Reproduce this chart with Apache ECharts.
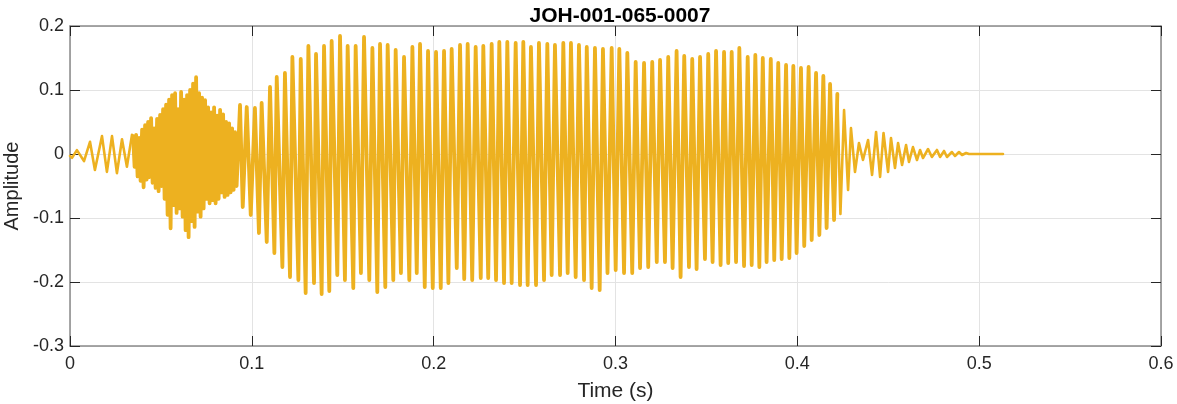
<!DOCTYPE html>
<html>
<head>
<meta charset="utf-8">
<script src="https://cdn.jsdelivr.net/npm/echarts@6/dist/echarts.min.js"></script>
<style>
html,body{margin:0;padding:0;background:#fff;}
#chart{width:1177px;height:404px;}
</style>
</head>
<body>
<div id="chart"></div>
<script>
// ---- Data ----
const chartTitle = 'JOH-001-065-0007';
const xTicks = [0, 0.1, 0.2, 0.3, 0.4, 0.5, 0.6];
const yTicks = [-0.3, -0.2, -0.1, 0, 0.1, 0.2];

// onset (slow oscillations)
const onsetTime = [0, 0.0011, 0.0038, 0.0077, 0.0110, 0.0137, 0.0176, 0.0203, 0.0231, 0.0258, 0.0286, 0.0313, 0.0341];
const onsetAmp  = [-0.003, -0.006, 0.006, -0.011, 0.019, -0.025, 0.028, -0.028, 0.028, -0.030, 0.023, -0.020, 0.030];

// noisy burst: uniformly sampled extrema
const noiseStart = 0.0347;
const noiseStep = 0.000825;
const noiseAmp = [
  0.028, -0.02, 0.03, -0.035, 0.025, -0.042, 0.038, -0.052, 0.045, -0.04,
  0.05, -0.036, 0.056, -0.045, 0.04, -0.053, 0.055, -0.058, 0.061, -0.05,
  0.07, -0.07, 0.077, -0.095, 0.085, -0.116, 0.092, -0.08, 0.095, -0.092,
  0.07, -0.085, 0.097, -0.098, 0.085, -0.119, 0.092, -0.13, 0.1, -0.105,
  0.11, -0.114, 0.12, -0.09, 0.095, -0.098, 0.088, -0.085, 0.084, -0.07,
  0.073, -0.077, 0.065, -0.072, 0.073, -0.077, 0.06, -0.07, 0.069, -0.06,
  0.062, -0.067, 0.05, -0.064, 0.048, -0.06, 0.04, -0.056, 0.034, -0.05
];

// voiced part: positive peaks
const peakTime = [
  0.0935, 0.0972, 0.1017, 0.1054, 0.1100, 0.1137, 0.1182, 0.1223, 0.1269, 0.1311,
  0.1353, 0.1397, 0.1439, 0.1485, 0.1527, 0.1571, 0.1617, 0.1663, 0.1705, 0.1747,
  0.1791, 0.1837, 0.1883, 0.1925, 0.1969, 0.2013, 0.2057, 0.2099, 0.2145, 0.2187,
  0.2231, 0.2273, 0.2319, 0.2361, 0.2405, 0.2451, 0.2493, 0.2535, 0.2579, 0.2625,
  0.2667, 0.2713, 0.2755, 0.2799, 0.2842, 0.2887, 0.2931, 0.2979, 0.3021, 0.3065,
  0.3111, 0.3157, 0.3202, 0.3245, 0.3290, 0.3336, 0.3378, 0.3422, 0.3465, 0.3510,
  0.3553, 0.3597, 0.3639, 0.3681, 0.3727, 0.3769, 0.3810, 0.3854, 0.3895, 0.3938,
  0.3978, 0.4020, 0.4062, 0.4103, 0.4143, 0.4180, 0.4220
];
const peakAmp = [
  0.0766, 0.0734, 0.0719, 0.0797, 0.1047, 0.1203, 0.1266, 0.1516, 0.1484, 0.1688,
  0.1563, 0.1688, 0.1766, 0.1844, 0.1688, 0.1688, 0.1828, 0.1656, 0.1719, 0.1703,
  0.1625, 0.1516, 0.1672, 0.1719, 0.1609, 0.1594, 0.1609, 0.1641, 0.1703, 0.1719,
  0.1672, 0.1688, 0.1719, 0.1750, 0.1750, 0.1734, 0.1750, 0.1672, 0.1734, 0.1719,
  0.1703, 0.1734, 0.1734, 0.1703, 0.1672, 0.1656, 0.1641, 0.1656, 0.1641, 0.1578,
  0.1438, 0.1422, 0.1438, 0.1469, 0.1516, 0.1609, 0.1531, 0.1484, 0.1516, 0.1563,
  0.1609, 0.1594, 0.1594, 0.1656, 0.1516, 0.1547, 0.1500, 0.1484, 0.1422, 0.1391,
  0.1375, 0.1344, 0.1359, 0.1266, 0.1219, 0.1094, 0.0938
];
// voiced part: negative troughs
const troughTime = [
  0.0950, 0.0994, 0.1039, 0.1082, 0.1124, 0.1168, 0.1210, 0.1256, 0.1296, 0.1342,
  0.1384, 0.1426, 0.1470, 0.1512, 0.1558, 0.1600, 0.1646, 0.1690, 0.1734, 0.1778,
  0.1820, 0.1866, 0.1907, 0.1951, 0.1995, 0.2039, 0.2081, 0.2127, 0.2168, 0.2212,
  0.2259, 0.2300, 0.2343, 0.2387, 0.2429, 0.2475, 0.2517, 0.2563, 0.2607, 0.2649,
  0.2695, 0.2737, 0.2781, 0.2827, 0.2869, 0.2913, 0.2956, 0.3001, 0.3047, 0.3092,
  0.3135, 0.3180, 0.3227, 0.3272, 0.3314, 0.3358, 0.3404, 0.3446, 0.3492, 0.3534,
  0.3578, 0.3620, 0.3663, 0.3707, 0.3749, 0.3791, 0.3831, 0.3873, 0.3914, 0.3956,
  0.3996, 0.4038, 0.4079, 0.4121, 0.4161, 0.4202
];
const troughAmp = [
  -0.0828, -0.0953, -0.1234, -0.1375, -0.1547, -0.1766, -0.1922, -0.1969, -0.2172, -0.2016,
  -0.2188, -0.2141, -0.1891, -0.1969, -0.2094, -0.1859, -0.1969, -0.2156, -0.2078, -0.1969,
  -0.1859, -0.1969, -0.1859, -0.2078, -0.2094, -0.2094, -0.2016, -0.1781, -0.1953, -0.1969,
  -0.1938, -0.1938, -0.1969, -0.2016, -0.2016, -0.2047, -0.2047, -0.2047, -0.1969, -0.1891,
  -0.1891, -0.1859, -0.1922, -0.1969, -0.2094, -0.2125, -0.1859, -0.1813, -0.1859, -0.1859,
  -0.1781, -0.1766, -0.1688, -0.1688, -0.1781, -0.1922, -0.1766, -0.1797, -0.1641, -0.1688,
  -0.1734, -0.1703, -0.1688, -0.1750, -0.1734, -0.1766, -0.1688, -0.1656, -0.1641, -0.1625,
  -0.1547, -0.1438, -0.1344, -0.1266, -0.1156, -0.1031
];

// decaying tail
const tailTime = [
  0.4237, 0.4257, 0.4279, 0.4295, 0.4317, 0.4339, 0.4361, 0.4389, 0.4411, 0.4433,
  0.4455, 0.4474, 0.4499, 0.4515, 0.4537, 0.4554, 0.4576, 0.4598, 0.4614, 0.4636,
  0.4658, 0.4675, 0.4691, 0.4719, 0.4740, 0.4768, 0.4785, 0.4807, 0.4823, 0.4850,
  0.4867, 0.4889, 0.4906, 0.4928, 0.4944, 0.5131
];
const tailAmp = [
  -0.0938, 0.0688, -0.0563, 0.0406, -0.0281, 0.0172, -0.0094, 0.0219, -0.0328, 0.0344,
  -0.0359, 0.0328, -0.0281, 0.0250, -0.0219, 0.0172, -0.0172, 0.0141, -0.0125, 0.0109,
  -0.0094, 0.0063, -0.0063, 0.0078, -0.0047, 0.0063, -0.0047, 0.0047, -0.0047, 0.0031,
  -0.0031, 0.0031, -0.0016, 0.0016, 0, 0
];

// ---- Build series data ----
const onsetPts = onsetTime.map((t, i) => [t, onsetAmp[i]]);
const mainPts = [];
noiseAmp.forEach((a, i) => mainPts.push([noiseStart + i * noiseStep, a]));
peakTime.forEach((t, i) => mainPts.push([t, peakAmp[i]]));
troughTime.forEach((t, i) => mainPts.push([t, troughAmp[i]]));
mainPts.sort((a, b) => a[0] - b[0]);
const tailPts = tailTime.map((t, i) => [t, tailAmp[i]]);
// join segments so the trace is continuous
onsetPts.push(mainPts[0]);
tailPts.unshift(mainPts[mainPts.length - 1]);

const FONT = 'Liberation Sans, Arial, Helvetica, sans-serif';
const WAVE = '#EDB120';
const chart = echarts.init(document.getElementById('chart'), null, {renderer: 'canvas'});
const gridLine = {show: true, lineStyle: {color: '#e3e3e3', width: 1}};
const boxLine = {show: true, onZero: false, lineStyle: {color: '#8a8a8a', width: 1.5}};
const tickIn = {show: true, inside: true, length: 10, lineStyle: {color: '#262626', width: 1}};
const lineSeries = (data, w) => ({
  type: 'line', data: data, showSymbol: false, sampling: 'none',
  lineStyle: {color: WAVE, width: w, join: 'round', cap: 'round'},
  emphasis: {disabled: true}, z: 1
});

chart.setOption({
  animation: false,
  backgroundColor: '#fff',
  title: {
    text: chartTitle,
    left: 615, top: 1, textAlign: 'center',
    textStyle: {fontFamily: FONT, fontSize: 21, fontWeight: 'bold', color: '#000'}
  },
  grid: {left: 70, right: 16, top: 26, bottom: 58, containLabel: false, outerBoundsMode: 'none'},
  xAxis: [{
    type: 'value', min: xTicks[0], max: xTicks[xTicks.length - 1], interval: 0.1,
    position: 'bottom',
    name: 'Time (s)', nameLocation: 'middle', nameGap: 35,
    nameTextStyle: {fontFamily: FONT, fontSize: 21, color: '#262626'},
    axisLine: boxLine, axisTick: tickIn,
    axisLabel: {fontFamily: FONT, fontSize: 18, color: '#262626', margin: 9},
    splitLine: gridLine
  }, {
    type: 'value', min: xTicks[0], max: xTicks[xTicks.length - 1], interval: 0.1,
    position: 'top',
    axisLine: boxLine, axisTick: tickIn, axisLabel: {show: false}, splitLine: {show: false}
  }],
  yAxis: [{
    type: 'value', min: yTicks[0], max: yTicks[yTicks.length - 1], interval: 0.1,
    position: 'left',
    name: 'Amplitude', nameLocation: 'middle', nameGap: 47,
    nameTextStyle: {fontFamily: FONT, fontSize: 20, color: '#262626'},
    axisLine: boxLine, axisTick: tickIn,
    axisLabel: {fontFamily: FONT, fontSize: 18, color: '#262626', margin: 6,
      formatter: v => String(Math.round(v * 10) / 10)},
    splitLine: gridLine
  }, {
    type: 'value', min: yTicks[0], max: yTicks[yTicks.length - 1], interval: 0.1,
    position: 'right',
    axisLine: boxLine, axisTick: tickIn, axisLabel: {show: false}, splitLine: {show: false}
  }],
  series: [
    lineSeries(onsetPts, 2.6),
    lineSeries(mainPts, 3.8),
    lineSeries(tailPts, 2.6)
  ]
});
</script>
</body>
</html>
